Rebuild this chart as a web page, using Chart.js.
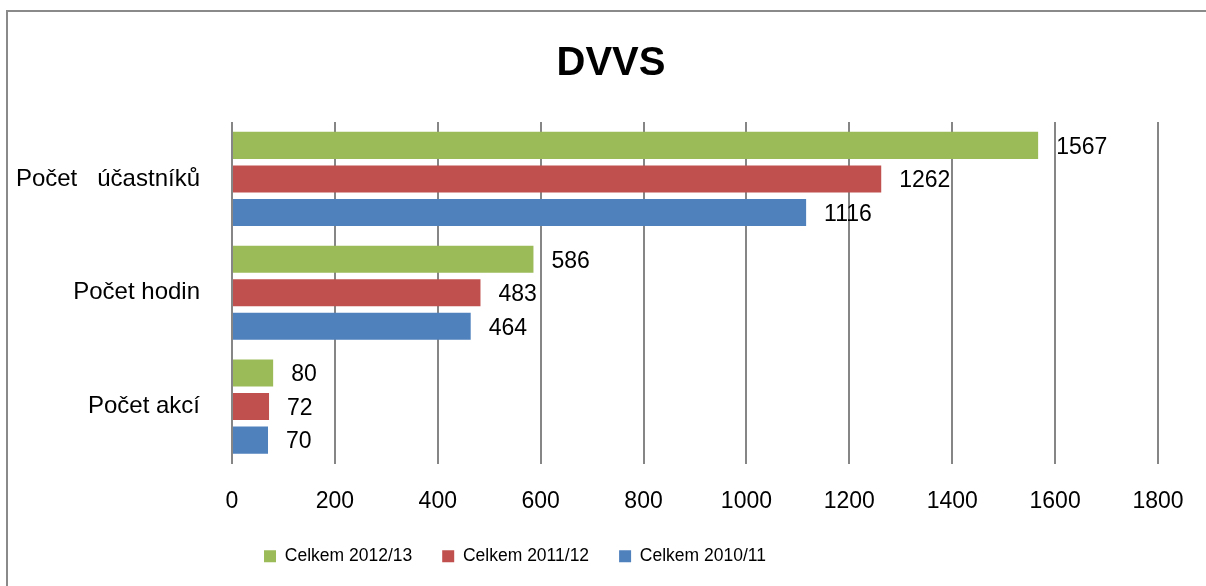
<!DOCTYPE html>
<html>
<head>
<meta charset="utf-8">
<script src="https://cdn.jsdelivr.net/npm/chart.js@4.4.1/dist/chart.umd.min.js"></script>
<style>
html, body { margin: 0; padding: 0; background: #fff; overflow: hidden; }
#wrap { position: relative; width: 1206px; height: 586px; }
#frame { position: absolute; left: 6px; top: 10px; width: 1300px; height: 700px;
  border-left: 2px solid #8a8a8a; border-top: 2px solid #8a8a8a; pointer-events: none; }
</style>
</head>
<body>
<div id="wrap">
  <canvas id="dvvs-chart" width="1206" height="586"></canvas>
  <div id="frame"></div>
</div>
<script>
const categories = ['Počet   účastníků', 'Počet hodin', 'Počet akcí'];
const seriesNames = ['Celkem 2012/13', 'Celkem 2011/12', 'Celkem 2010/11'];
const values2012 = [1567, 586, 80];
const values2011 = [1262, 483, 72];
const values2010 = [1116, 464, 70];
const seriesColors = ['#9BBB59', '#C0504D', '#4F81BD'];
const xTicks = [0, 200, 400, 600, 800, 1000, 1200, 1400, 1600, 1800];

const chartCanvas = document.getElementById('dvvs-chart').getContext('2d');
const baseFont = '"Liberation Sans", Arial, sans-serif';
Chart.defaults.font.family = baseFont;
Chart.defaults.color = '#000';

// numbers next to the bar ends
const valueLabels = {
    id: 'valueLabels',
    afterDatasetsDraw(chart) {
        const ctx = chart.ctx;
        ctx.save();
        ctx.font = '23px ' + baseFont;
        ctx.fillStyle = '#000';
        ctx.textAlign = 'left';
        ctx.textBaseline = 'middle';
        chart.data.datasets.forEach((ds, i) => {
            chart.getDatasetMeta(i).data.forEach((bar, j) => {
                ctx.fillText(String(ds.data[j]), bar.x + 18, bar.y + 2);
            });
        });
        ctx.restore();
    }
};

// title is centred on the whole frame, legend sits left of centre
const boxShift = {
    id: 'boxShift',
    afterLayout(chart) {
        chart.titleBlock.left += 32;
        chart.titleBlock.right += 32;
        chart.legend.left -= 64;
        chart.legend.right -= 64;
    }
};

const seriesValues = [values2012, values2011, values2010];

new Chart(chartCanvas, {
    type: 'bar',
    data: {
        labels: categories,
        datasets: seriesNames.map((name, i) => ({
            label: name,
            data: seriesValues[i],
            backgroundColor: seriesColors[i],
            borderWidth: 0,
            categoryPercentage: 0.884,
            barPercentage: 0.806
        }))
    },
    options: {
        indexAxis: 'y',
        responsive: false,
        animation: false,
        layout: { padding: { top: 0, left: 0, right: 48, bottom: 11 } },
        plugins: {
            title: {
                display: true,
                text: 'DVVS',
                color: '#000',
                font: { size: 40, weight: 'bold' },
                padding: { top: 40, bottom: 34 }
            },
            legend: {
                position: 'bottom',
                labels: {
                    color: '#000',
                    boxWidth: 12,
                    boxHeight: 12,
                    padding: 30,
                    font: { size: 17.5 }
                }
            },
            tooltip: { enabled: false }
        },
        scales: {
            x: {
                min: 0,
                max: 1800,
                afterBuildTicks: (scale) => { scale.ticks = xTicks.map(v => ({ value: v })); },
                afterFit: (scale) => {
                    scale.height = 54;
                    scale.paddingRight = 0;
                },
                ticks: { font: { size: 23 }, color: '#000', padding: 24, callback: (v) => String(v) },
                grid: { color: '#868686', lineWidth: 2, drawTicks: false },
                border: { display: false }
            },
            y: {
                afterFit: (scale) => { scale.width = 232; },
                ticks: { font: { size: 24 }, color: '#000', padding: 32 },
                grid: { display: false, drawTicks: false },
                border: { display: false }
            }
        }
    },
    plugins: [valueLabels, boxShift]
});
</script>
</body>
</html>
